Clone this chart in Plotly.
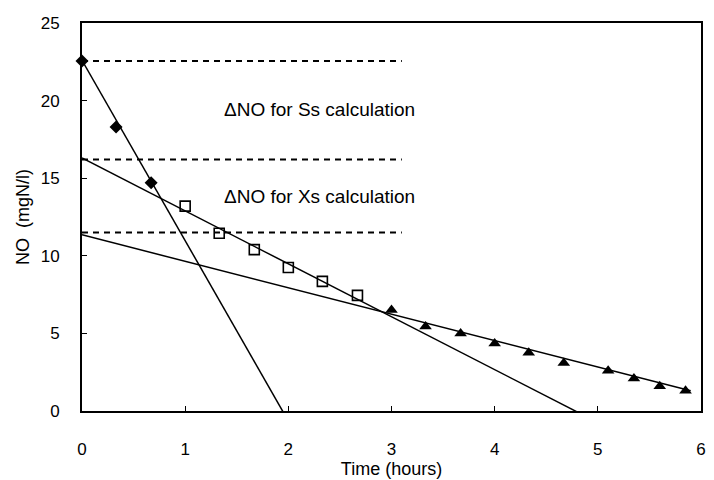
import plotly.graph_objects as go

# Data
diam_x = [0.0, 0.33, 0.67]
diam_y = [22.55, 18.3, 14.7]

sq_x = [1.0, 1.33, 1.67, 2.0, 2.33, 2.67]
sq_y = [13.2, 11.45, 10.4, 9.25, 8.35, 7.45]

tri_x = [3.0, 3.33, 3.67, 4.0, 4.33, 4.67, 5.1, 5.35, 5.6, 5.85]
tri_y = [6.5, 5.45, 5.0, 4.35, 3.75, 3.1, 2.6, 2.1, 1.6, 1.3]

fit1_x = [0.0, 1.97]
fit1_y = [22.6, -0.3]
fit2_x = [0.0, 4.87]
fit2_y = [16.3, -0.3]
fit3_x = [0.0, 5.9]
fit3_y = [11.35, 1.3]

dash_levels = [22.55, 16.2, 11.5]
dash_x = [0.0, 3.1]

labels = ["ΔNO for Ss calculation", "ΔNO for Xs calculation"]
label_x = [2.3, 2.3]
label_y = [19.45, 13.8]

FONT = "Liberation Sans, Arial, sans-serif"

fig = go.Figure()

for lvl in dash_levels:
    fig.add_trace(go.Scatter(x=dash_x, y=[lvl, lvl], mode="lines",
                             line=dict(color="black", width=2, dash="6px,5px"),
                             hoverinfo="skip", showlegend=False))

for fx, fy in [(fit1_x, fit1_y), (fit2_x, fit2_y), (fit3_x, fit3_y)]:
    fig.add_trace(go.Scatter(x=fx, y=fy, mode="lines",
                             line=dict(color="black", width=1.5),
                             showlegend=False))

fig.add_trace(go.Scatter(x=diam_x, y=diam_y, mode="markers", cliponaxis=False,
                         marker=dict(symbol="diamond", size=10, color="black"),
                         showlegend=False))
fig.add_trace(go.Scatter(x=sq_x, y=sq_y, mode="markers", cliponaxis=False,
                         marker=dict(symbol="square-open", size=10, color="black",
                                     line=dict(width=1.6)),
                         showlegend=False))
fig.add_trace(go.Scatter(x=tri_x, y=tri_y, mode="markers", cliponaxis=False,
                         marker=dict(symbol="triangle-up", size=11, color="black"),
                         showlegend=False))

for t, tx, ty in zip(labels, label_x, label_y):
    fig.add_annotation(x=tx, y=ty, text=t, showarrow=False,
                       font=dict(family=FONT, size=19, color="black"))

fig.update_layout(
    width=714, height=480,
    margin=dict(l=82, r=8, t=23, b=64),
    paper_bgcolor="white", plot_bgcolor="white",
    font=dict(family=FONT, color="black"),
    showlegend=False,
)
fig.update_xaxes(range=[0, 6], tickvals=[0, 1, 2, 3, 4, 5, 6],
                 ticks="inside", ticklen=5, tickcolor="black", tickwidth=1.2,
                 showline=True, linecolor="black", linewidth=1.8, mirror=True,
                 showgrid=False, zeroline=False,
                 tickfont=dict(family=FONT, size=17),
                 ticklabelstandoff=22,
                 title=dict(text="Time (hours)", font=dict(family=FONT, size=18), standoff=0))
fig.update_yaxes(range=[0, 25], tickvals=[0, 5, 10, 15, 20, 25],
                 ticks="inside", ticklen=5, tickcolor="black", tickwidth=1.2,
                 showline=True, linecolor="black", linewidth=1.8, mirror=True,
                 showgrid=False, zeroline=False,
                 tickfont=dict(family=FONT, size=17),
                 ticklabelstandoff=17,
                 title=dict(text="NO  (mgN/l)", font=dict(family=FONT, size=18), standoff=6))

fig.write_html("out.html")
